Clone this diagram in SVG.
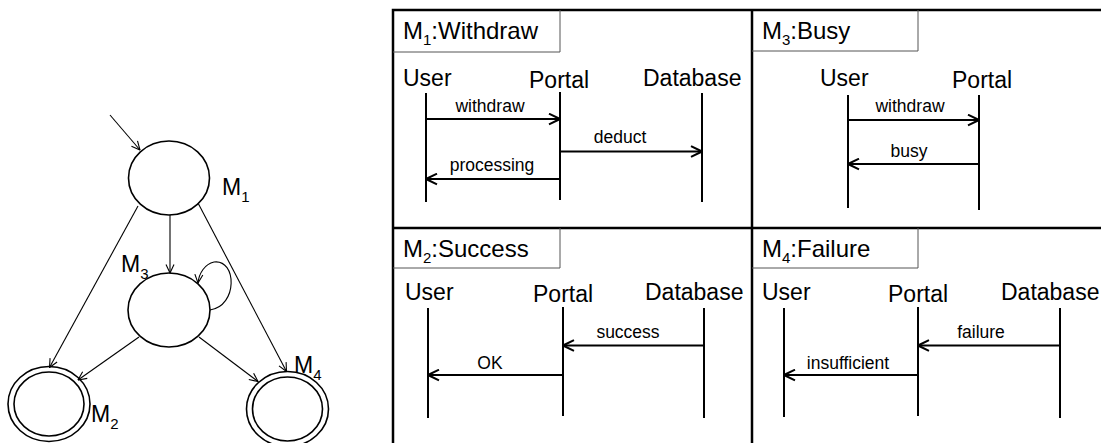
<svg xmlns="http://www.w3.org/2000/svg" width="1101" height="443" viewBox="0 0 1101 443">
  <style>
    text { font-family: "Liberation Sans", Arial, sans-serif; fill: #000; }
    .state { fill: #fff; stroke: #000; stroke-width: 1.6; }
    .edge { fill: none; stroke: #000; stroke-width: 1.1; }
    .slabel { font-size: 23px; }
    .sub { font-size: 15px; }
    .frame { fill: none; stroke: #000; stroke-width: 2.5; }
    .tab { fill: none; stroke: #555; stroke-width: 1; }
    .title { font-size: 24px; }
    .actor { font-size: 23px; }
    .life { stroke: #000; stroke-width: 2; }
    .msg { fill: none; stroke: #000; stroke-width: 2; }
    .mlabel { font-size: 17.5px; text-anchor: middle; }
  </style>
  <defs>
    <marker id="thin" viewBox="0 0 10 10" refX="9.5" refY="5" markerWidth="10" markerHeight="10" markerUnits="userSpaceOnUse" orient="auto">
      <path d="M1,1 L9.5,5 L1,9" fill="none" stroke="#000" stroke-width="1.1"/>
    </marker>
    <marker id="open" viewBox="0 0 13 13" refX="12" refY="6.5" markerWidth="13" markerHeight="13" markerUnits="userSpaceOnUse" orient="auto">
      <path d="M1,1.2 L12,6.5 L1,11.8" fill="none" stroke="#000" stroke-width="2"/>
    </marker>
  </defs>

  <!-- state machine -->
  <g id="m1">
    <ellipse class="state" cx="169" cy="178" rx="40.5" ry="37"/>
    <text class="slabel" x="222" y="195">M<tspan class="sub" dy="6.5">1</tspan></text>
  </g>
  <g id="m3">
    <ellipse class="state" cx="169" cy="310" rx="41" ry="37"/>
    <text class="slabel" x="121" y="272">M<tspan class="sub" dy="6.5">3</tspan></text>
  </g>
  <g id="m2">
    <ellipse class="state" cx="49" cy="404" rx="41" ry="37.5"/>
    <ellipse class="state" cx="49" cy="404" rx="35" ry="32"/>
    <text class="slabel" x="91" y="422">M<tspan class="sub" dy="6.5">2</tspan></text>
  </g>
  <g id="m4">
    <ellipse class="state" cx="287.5" cy="409" rx="41" ry="37.5"/>
    <ellipse class="state" cx="287.5" cy="409" rx="35" ry="32"/>
    <text class="slabel" x="294" y="373">M<tspan class="sub" dy="6.5">4</tspan></text>
  </g>
  <g id="transitions">
    <line class="edge" x1="110" y1="115" x2="140" y2="150" marker-end="url(#thin)"/>
    <line class="edge" x1="170" y1="215" x2="170" y2="273" marker-end="url(#thin)"/>
    <line class="edge" x1="138" y1="206" x2="49.5" y2="367.5" marker-end="url(#thin)"/>
    <line class="edge" x1="198" y1="203" x2="286.5" y2="371.5" marker-end="url(#thin)"/>
    <line class="edge" x1="139" y1="337" x2="78" y2="380" marker-end="url(#thin)"/>
    <line class="edge" x1="199" y1="337" x2="258" y2="381.5" marker-end="url(#thin)"/>
    <path class="edge" d="M210,310 C238,306 237,259 214,262 C205,264 199,273 198,283" marker-end="url(#thin)"/>
  </g>

  <!-- scenario panels -->
  <g id="frame">
    <path class="frame" d="M393,443 V10 H1101 M752,10 V443 M393,228 H1101"/>
    <path class="tab" d="M560,10 V52 H393 M918,10 V51 H752 M560,228 V268 H393 M918,228 V268 H752"/>
  </g>

  <g id="panel-m1">
    <text class="title" x="403" y="39">M<tspan class="sub" dy="6">1</tspan><tspan dy="-6">:Withdraw</tspan></text>
    <text class="actor" x="403" y="86">User</text>
    <text class="actor" x="529" y="88">Portal</text>
    <text class="actor" x="643" y="86">Database</text>
    <line class="life" x1="426" y1="93" x2="426" y2="202"/>
    <line class="life" x1="560" y1="92" x2="560" y2="200"/>
    <line class="life" x1="702" y1="93" x2="702" y2="202"/>
    <line class="msg" x1="426" y1="119" x2="560" y2="119" marker-end="url(#open)"/>
    <text class="mlabel" x="490" y="112">withdraw</text>
    <line class="msg" x1="560" y1="151.5" x2="702" y2="151.5" marker-end="url(#open)"/>
    <text class="mlabel" x="620" y="143">deduct</text>
    <line class="msg" x1="560" y1="179" x2="426" y2="179" marker-end="url(#open)"/>
    <text class="mlabel" x="492" y="171">processing</text>
  </g>

  <g id="panel-m3">
    <text class="title" x="762" y="39">M<tspan class="sub" dy="6">3</tspan><tspan dy="-6">:Busy</tspan></text>
    <text class="actor" x="820" y="86">User</text>
    <text class="actor" x="952" y="88">Portal</text>
    <line class="life" x1="848" y1="95" x2="848" y2="208"/>
    <line class="life" x1="979" y1="95" x2="979" y2="210"/>
    <line class="msg" x1="848" y1="120" x2="979" y2="120" marker-end="url(#open)"/>
    <text class="mlabel" x="910" y="112">withdraw</text>
    <line class="msg" x1="979" y1="164" x2="848" y2="164" marker-end="url(#open)"/>
    <text class="mlabel" x="909" y="157">busy</text>
  </g>

  <g id="panel-m2">
    <text class="title" x="403" y="257">M<tspan class="sub" dy="6">2</tspan><tspan dy="-6">:Success</tspan></text>
    <text class="actor" x="405" y="300">User</text>
    <text class="actor" x="533" y="302">Portal</text>
    <text class="actor" x="645" y="300">Database</text>
    <line class="life" x1="428" y1="308" x2="428" y2="418"/>
    <line class="life" x1="563" y1="307" x2="563" y2="416"/>
    <line class="life" x1="704" y1="308" x2="704" y2="418"/>
    <line class="msg" x1="704" y1="345.5" x2="563" y2="345.5" marker-end="url(#open)"/>
    <text class="mlabel" x="628" y="338">success</text>
    <line class="msg" x1="563" y1="375" x2="428" y2="375" marker-end="url(#open)"/>
    <text class="mlabel" x="490" y="369">OK</text>
  </g>

  <g id="panel-m4">
    <text class="title" x="762" y="257">M<tspan class="sub" dy="6">4</tspan><tspan dy="-6">:Failure</tspan></text>
    <text class="actor" x="762" y="300">User</text>
    <text class="actor" x="888" y="302">Portal</text>
    <text class="actor" x="1001" y="300">Database</text>
    <line class="life" x1="784" y1="308" x2="784" y2="417"/>
    <line class="life" x1="918" y1="307" x2="918" y2="416"/>
    <line class="life" x1="1060" y1="308" x2="1060" y2="418"/>
    <line class="msg" x1="1060" y1="345.5" x2="918" y2="345.5" marker-end="url(#open)"/>
    <text class="mlabel" x="981" y="338">failure</text>
    <line class="msg" x1="918" y1="375" x2="784" y2="375" marker-end="url(#open)"/>
    <text class="mlabel" x="848" y="369">insufficient</text>
  </g>
</svg>
